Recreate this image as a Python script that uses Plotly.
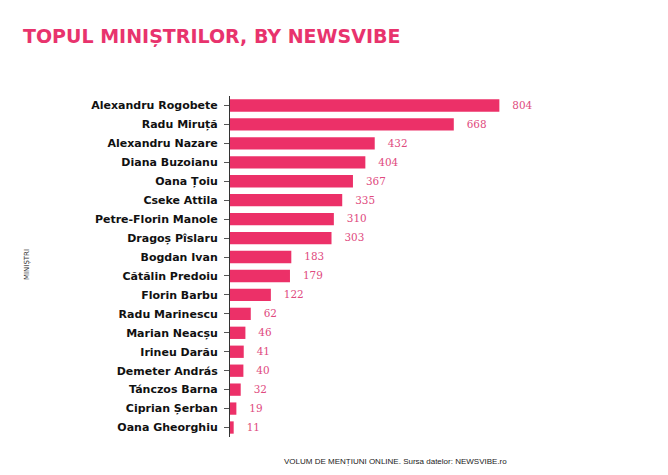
import plotly.graph_objects as go

names = ["Alexandru Rogobete", "Radu Miruță", "Alexandru Nazare", "Diana Buzoianu", "Oana Țoiu",
         "Cseke Attila", "Petre-Florin Manole", "Dragoș Pîslaru", "Bogdan Ivan", "Cătălin Predoiu",
         "Florin Barbu", "Radu Marinescu", "Marian Neacșu", "Irineu Darău", "Demeter András",
         "Tánczos Barna", "Ciprian Șerban", "Oana Gheorghiu"]
values = [804, 668, 432, 404, 367, 335, 310, 303, 183, 179, 122, 62, 46, 41, 40, 32, 19, 11]

title_text = "TOPUL MINIȘTRILOR, BY NEWSVIBE"
y_title = "MINIȘTRI"
x_title = "VOLUM DE MENȚIUNI ONLINE. Sursa datelor: NEWSVIBE.ro"

pink = "#ec3068"

fig = go.Figure(go.Bar(
    x=values, y=names, orientation="h",
    marker=dict(color=pink, line=dict(width=0)),
    text=["   " + str(v) for v in values], textposition="outside",
    textfont=dict(family="DejaVu Serif", size=11, color="#e04a7e"),
    cliponaxis=False, width=0.65,
))

L, R, T, B = 230, 108, 96, 38
pw = 668 - L - R
ph = 475 - T - B

fig.update_layout(
    width=668, height=475,
    margin=dict(l=L, r=R, t=T, b=B),
    plot_bgcolor="white", paper_bgcolor="white",
    showlegend=False,
    title=dict(text="<b>" + title_text + "</b>", x=23 / 668, xref="container", xanchor="left",
               y=1 - 36 / 475, yref="container", yanchor="middle",
               font=dict(family="DejaVu Sans", size=19, color="#e8336d")),
    xaxis=dict(range=[0, 985], visible=False, fixedrange=True),
    yaxis=dict(autorange="reversed", showline=True, linecolor="#333", linewidth=1,
               ticks="outside", ticklen=5, tickcolor="#555",
               tickfont=dict(family="DejaVu Sans", size=11, color="#111", weight="bold"),
               showgrid=False, ticklabelstandoff=4),
    bargap=0.35,
    annotations=[
        dict(text=y_title, textangle=-90, x=(27 - L) / pw, y=(475 - B - 265) / ph,
             xref="paper", yref="paper",
             showarrow=False, font=dict(family="DejaVu Sans", size=7, color="#333"),
             xanchor="center", yanchor="middle"),
        dict(text=x_title, x=(395 - L) / pw, y=(475 - B - 461) / ph, xref="paper", yref="paper",
             showarrow=False,
             font=dict(family="Liberation Sans", size=8, color="#222"),
             xanchor="center", yanchor="middle"),
    ],
)

fig.write_html("out.html")
